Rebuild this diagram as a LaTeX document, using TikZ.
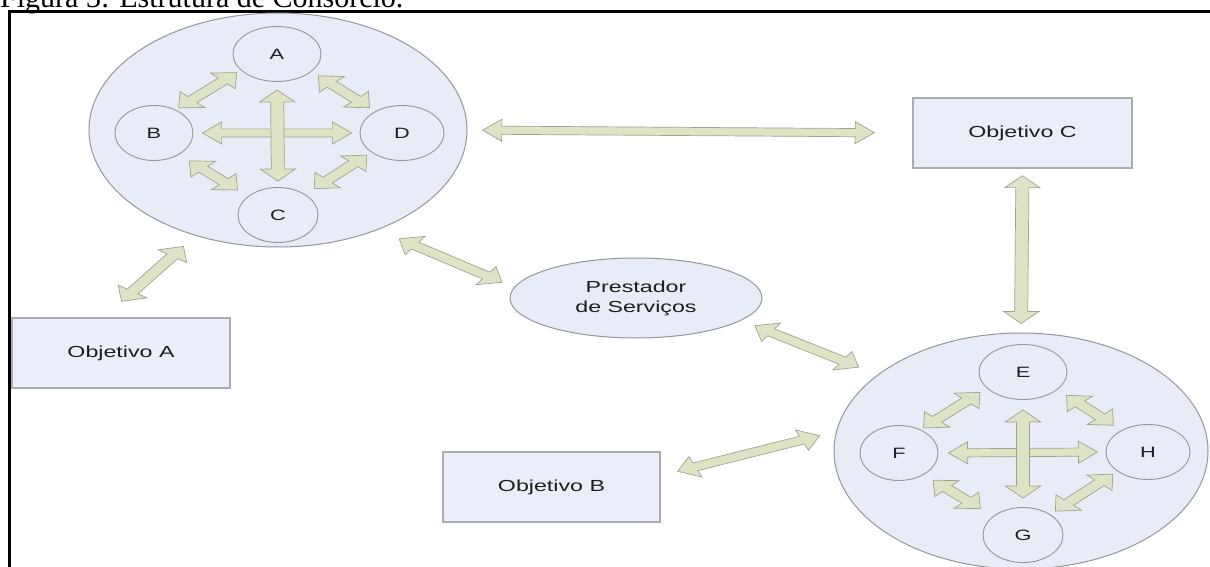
\documentclass[tikz,border=0pt]{standalone}
\usepackage{fontspec}
\setmainfont{Liberation Serif}
\newfontfamily\dfont[FakeStretch=1.45]{Liberation Sans}
\usetikzlibrary{shapes.geometric,calc}
\definecolor{cfill}{RGB}{231,236,246}
\definecolor{cline}{RGB}{150,150,156}
\definecolor{bfill}{RGB}{233,238,248}
\definecolor{bline}{RGB}{172,172,176}
\definecolor{afill}{RGB}{221,227,196}
\definecolor{aline}{RGB}{160,163,146}
\definecolor{tcol}{RGB}{30,30,30}
\tikzset{
  bigc/.style={ellipse, draw=cline, fill=cfill, line width=1pt, inner sep=0pt},
  smallc/.style={ellipse, draw=cline, fill=cfill, line width=0.9pt, inner sep=0pt,
    minimum width=82pt, minimum height=55pt,
    font=\dfont\fontsize{15}{17}\selectfont, text=tcol},
  objbox/.style={rectangle, draw=bline, fill=bfill, line width=1.3pt,
    minimum width=218pt, minimum height=70pt, inner sep=0pt,
    font=\dfont\fontsize{16}{19}\selectfont, text=tcol},
  provider/.style={ellipse, draw=cline, fill=cfill, line width=1pt, inner sep=0pt,
    minimum width=252pt, minimum height=80pt, align=center,
    font=\dfont\fontsize{16}{20}\selectfont, text=tcol},
  barrow/.style 2 args={draw=aline, fill=afill, line width=0.7pt, line join=miter,
    to path={let \p1=(\tikztostart), \p2=(\tikztotarget),
      \n1={(\x2-\x1)/1.6}, \n2={\y2-\y1}, \n3={veclen(\n1,\n2)},
      \n4={\n1/\n3}, \n5={\n2/\n3},
      \n6={#1}, \n7={#1+12}, \n8={\n3-#2-12}, \n9={\n3-#2} in
      ({\x1+1.6*(\n6*\n4)}, {\y1+\n6*\n5})
      -- ({\x1+1.6*(\n7*\n4-11*\n5)}, {\y1+\n7*\n5+11*\n4})
      -- ({\x1+1.6*(\n7*\n4-4.1*\n5)}, {\y1+\n7*\n5+4.1*\n4})
      -- ({\x1+1.6*(\n8*\n4-4.1*\n5)}, {\y1+\n8*\n5+4.1*\n4})
      -- ({\x1+1.6*(\n8*\n4-11*\n5)}, {\y1+\n8*\n5+11*\n4})
      -- ({\x1+1.6*(\n9*\n4)}, {\y1+\n9*\n5})
      -- ({\x1+1.6*(\n8*\n4+11*\n5)}, {\y1+\n8*\n5-11*\n4})
      -- ({\x1+1.6*(\n8*\n4+4.1*\n5)}, {\y1+\n8*\n5-4.1*\n4})
      -- ({\x1+1.6*(\n7*\n4+4.1*\n5)}, {\y1+\n7*\n5-4.1*\n4})
      -- ({\x1+1.6*(\n7*\n4+11*\n5)}, {\y1+\n7*\n5-11*\n4})
      -- cycle}}
}
\begin{document}
\begin{tikzpicture}[x=1pt,y=-1pt]
\useasboundingbox (0,0) rectangle (1210,567);
\clip (0,0) rectangle (1210,567);
\fill[white] (0,0) rectangle (1210,567);

% caption and frame
\node[anchor=base west, inner sep=0pt, font=\fontsize{30}{34}\selectfont] (cap) at (0,8) {Figura 3: Estrutura de Consórcio.};
\draw[line width=3pt] (9.5,580) -- (9.5,11.5) -- (1220,11.5);

% big circles
\node[bigc, minimum width=378pt, minimum height=234pt] (big1) at (278,130) {};
\node[bigc, minimum width=374pt, minimum height=236pt] (big2) at (1021,451) {};

% inner circles
\node[smallc, minimum width=88pt] (A) at (277,54) {A};
\node[smallc, minimum width=78pt] (B) at (154,133) {B};
\node[smallc, minimum width=84pt] (D) at (402,133) {D};
\node[smallc, minimum width=80pt] (C) at (278,215) {C};
\node[smallc, minimum width=88pt] (E) at (1023,372) {E};
\node[smallc, minimum width=78pt] (F) at (899,453) {F};
\node[smallc, minimum width=84pt] (H) at (1148,452) {H};
\node[smallc, minimum width=80pt] (G) at (1023,535) {G};

% other nodes
\node[objbox] (objA) at (121,353) {Objetivo A};
\node[objbox, minimum width=219pt] (objC) at (1022.5,133) {Objetivo C};
\node[objbox, minimum width=217pt] (objB) at (551.5,487) {Objetivo B};
\node[provider] (prest) at (636,298) {Prestador\\de Serviços};

% inner arrows, first group
\draw[barrow={5.6}{5}] (B.east) to (D.west);
\draw[barrow={8}{6}] (A.south) to (C.north);
\draw[barrow={2.5}{3.5}] (B.47) to (A.204);
\draw[barrow={6}{5}] (A.333) to (D.141);
\draw[barrow={9}{9}] (B.319) to (C.148);
\draw[barrow={4}{8}] (D.212) to (C.37);

% inner arrows, second group
\draw[barrow={6.2}{5}] (F.east) to (H.west);
\draw[barrow={10}{9}] (E.south) to (G.north);
\draw[barrow={2.5}{6}] (F.47) to (E.204);
\draw[barrow={8}{7}] (E.333) to (H.141);
\draw[barrow={8}{11}] (F.319) to (G.148);
\draw[barrow={4}{4.5}] (H.212) to (G.37);

% outer arrows
\draw[barrow={9.4}{23.7}] (big1.east) to (objC.west);
\draw[barrow={7}{9}] (objC.south) to (big2.north);
\draw[barrow={13}{19.5}] (big1.232) to (objA.116);
\draw[barrow={16}{9}] (big1.315) to (prest.175);
\draw[barrow={10}{14}] (prest.348) to (big2.152);
\draw[barrow={11.4}{11}] (objB.6) to (big2.174);
\end{tikzpicture}
\end{document}
